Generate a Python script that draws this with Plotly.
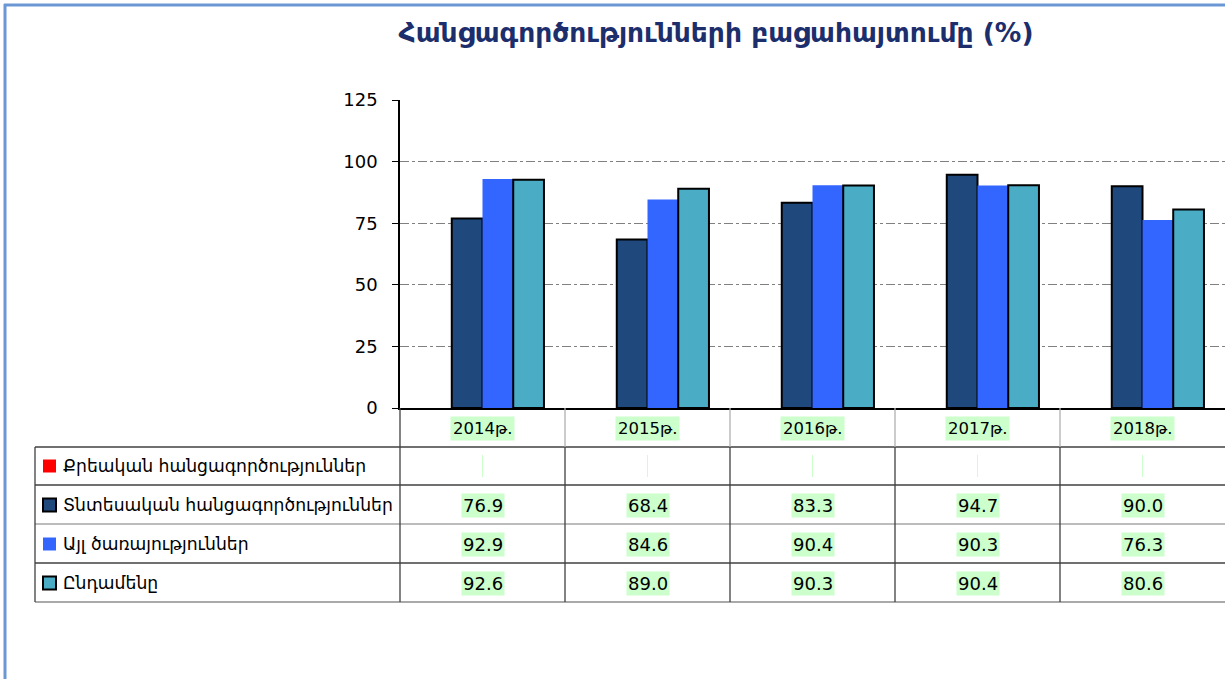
import plotly.graph_objects as go

# ---------------- data ----------------
title = "Հանցագործությունների բացահայտումը (%)"
categories = ["2014թ.", "2015թ.", "2016թ.", "2017թ.", "2018թ."]
series_names = [
    "Քրեական հանցագործություններ",
    "Տնտեսական հանցագործություններ",
    "Այլ ծառայություններ",
    "Ընդամենը",
]
criminal = [None, None, None, None, None]
economic = [76.9, 68.4, 83.3, 94.7, 90.0]
other_services = [92.9, 84.6, 90.4, 90.3, 76.3]
total = [92.6, 89.0, 90.3, 90.4, 80.6]
y_ticks = [0, 25, 50, 75, 100, 125]

series_values = [criminal, economic, other_services, total]
series_colors = ["#ff0000", "#1f497d", "#3366ff", "#4bacc6"]
series_outline = [0, 2, 0, 2]

# ---------------- geometry helpers (screen pixel -> paper) ----------------
W, H = 1225, 679
L, R, T, B = 400, 1225, 100, 408  # plot area in pixels


def px(x):
    return (x - L) / (R - L)


def py(y):
    return (B - y) / (B - T)


FONT = "DejaVu Sans, Noto Sans, sans-serif"
HL = "#ccffcc"

fig = go.Figure()
for name, vals, col, lw in zip(series_names, series_values, series_colors, series_outline):
    fig.add_trace(go.Bar(
        x=list(range(len(categories))), y=vals, name=name,
        marker=dict(color=col, line=dict(color="#000000", width=lw)),
        showlegend=False,
    ))

shapes = []
annotations = []

# border of chart area
shapes.append(dict(type="line", xref="paper", yref="paper", x0=px(5), x1=px(5),
                   y0=py(4), y1=py(700), line=dict(color="#6b98d4", width=3)))
shapes.append(dict(type="line", xref="paper", yref="paper", x0=px(4), x1=px(1240),
                   y0=py(5), y1=py(5), line=dict(color="#6b98d4", width=3)))

# table grid
row_lines = [(447, "#404040"), (485, "#404040"), (524, "#a6a6a6"), (563, "#404040"), (602, "#8c8c8c")]
for yv, c in row_lines:
    shapes.append(dict(type="line", xref="paper", yref="paper", x0=px(35), x1=px(1240),
                       y0=py(yv), y1=py(yv), line=dict(color=c, width=1.3)))
shapes.append(dict(type="line", xref="paper", yref="paper", x0=px(35), x1=px(35),
                   y0=py(447), y1=py(602), line=dict(color="#404040", width=1.3)))
shapes.append(dict(type="line", xref="paper", yref="paper", x0=px(400), x1=px(400),
                   y0=py(408), y1=py(602), line=dict(color="#404040", width=1.3)))
ncat = len(categories)
for i in range(1, ncat):
    xv = L + i * (R - L) / ncat
    shapes.append(dict(type="line", xref="paper", yref="paper", x0=px(xv), x1=px(xv),
                       y0=py(408), y1=py(447), line=dict(color="#b0b0b0", width=1.3)))
    shapes.append(dict(type="line", xref="paper", yref="paper", x0=px(xv), x1=px(xv),
                       y0=py(447), y1=py(602), line=dict(color="#404040", width=1.3)))

row_centers = [466, 505, 544, 583]
header_center = 428

# header: categories
for i, cat in enumerate(categories):
    annotations.append(dict(x=i, xref="x", y=py(header_center), yref="paper", text=cat,
                            xanchor="center", yanchor="middle",
                            showarrow=False, bgcolor=HL, borderpad=2,
                            font=dict(family=FONT, size=16.5, color="#000000")))

# rows
for r, (name, vals, col, lw) in enumerate(zip(series_names, series_values, series_colors, series_outline)):
    yc = row_centers[r]
    shapes.append(dict(type="rect", xref="paper", yref="paper", x0=px(43), x1=px(56),
                       y0=py(yc - 6.5), y1=py(yc + 6.5), fillcolor=col,
                       line=dict(color="#000000", width=lw) if lw else dict(width=0)))
    annotations.append(dict(x=px(61), xref="paper", y=py(yc), yref="paper", text=name,
                            xanchor="left", yanchor="middle", showarrow=False,
                            font=dict(family=FONT, size=17.2, color="#000000")))
    for i, v in enumerate(vals):
        if v is None:
            cx = L + (i + 0.5) * (R - L) / ncat
            shapes.append(dict(type="line", xref="paper", yref="paper", x0=px(cx), x1=px(cx),
                               y0=py(yc - 11), y1=py(yc + 11), line=dict(color=HL, width=1)))
        else:
            annotations.append(dict(x=i, xref="x", y=py(yc), yref="paper", text=f"{v:.1f}",
                                    xanchor="center", yanchor="middle",
                                    showarrow=False, bgcolor=HL, borderpad=1,
                                    font=dict(family=FONT, size=18, color="#000000")))

fig.update_layout(
    width=W, height=H,
    margin=dict(l=L, r=W - R, t=T, b=H - B),
    paper_bgcolor="white", plot_bgcolor="white",
    barmode="group", bargap=0.255, bargroupgap=0,
    title=dict(text=f"<b>{title}</b>", x=716 / W, xref="container", xanchor="center",
               y=1 - 33 / H, yref="container", yanchor="middle",
               font=dict(family=FONT, size=26.5, color="#1c2e6c")),
    xaxis=dict(range=[-0.5, ncat - 0.5], showticklabels=False, showgrid=False,
               showline=True, linecolor="#000000", linewidth=1.5, ticks="", zeroline=False),
    yaxis=dict(range=[0, 125], tickvals=y_ticks, showline=True, linecolor="#000000", linewidth=1.5,
               ticks="outside", ticklen=6, tickcolor="#000000", tickwidth=1,
               showgrid=True, gridcolor="#808080", gridwidth=1, griddash="dashdot",
               zeroline=False, ticklabelstandoff=11,
               tickfont=dict(family=FONT, size=18, color="#000000")),
    shapes=shapes, annotations=annotations,
)

fig.write_html(
    "out.html",
    config={"displayModeBar": False},
    post_script="document.body.style.margin='0';document.body.style.overflow='hidden';",
)
